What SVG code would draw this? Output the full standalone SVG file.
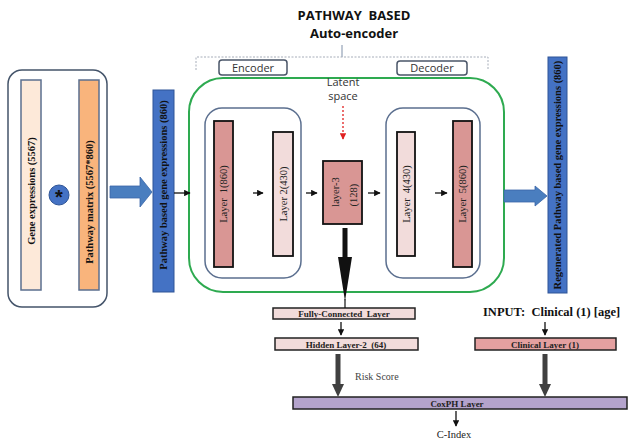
<svg xmlns="http://www.w3.org/2000/svg" width="629" height="439" viewBox="0 0 629 439">
<defs>
<style>
.sans{font-family:"Open Sans","Liberation Sans",sans-serif}
.serif{font-family:"Liberation Serif","Times New Roman",serif}
.title{font-family:"Open Sans","Liberation Sans",sans-serif;font-weight:bold;font-size:13px;fill:#111}
.lbl{font-family:"Open Sans","Liberation Sans",sans-serif;font-size:11px;fill:#333}
.bar{stroke:#111;stroke-width:1.8}
.rose{fill:#d99694}
.pink{fill:#f2dcdb}
.bluebar{fill:#4472c4;stroke:#2f5597;stroke-width:1}
.btxt{font-family:"Liberation Serif","Times New Roman",serif;font-weight:bold;font-size:10.5px;fill:#111}
.ltxt{font-family:"Liberation Serif","Times New Roman",serif;font-size:10.5px;fill:#222}
.hbox{stroke:#222;stroke-width:1.5}
.htxt{font-family:"Liberation Serif","Times New Roman",serif;font-weight:bold;font-size:9px;fill:#222}
.inner{fill:none;stroke:#5b6f8f;stroke-width:1.5}
.small{stroke:#111;stroke-width:1.3;fill:none;marker-end:url(#ah)}
.bigblue{fill:#4a7ebf;stroke:#3a66a8;stroke-width:0.8}
.gray{fill:#404040}
</style>
<marker id="ah" viewBox="0 0 10 10" refX="9" refY="5" markerWidth="5" markerHeight="5" orient="auto" markerUnits="strokeWidth">
<path d="M0,0 L10,5 L0,10 z" fill="#111"/>
</marker>
<marker id="ahr" viewBox="0 0 10 10" refX="9" refY="5" markerWidth="5" markerHeight="5" orient="auto" markerUnits="strokeWidth">
<path d="M0,0 L10,5 L0,10 z" fill="#e02020"/>
</marker>
</defs>

<g id="title">
<text class="title" x="354" y="20" text-anchor="middle" xml:space="preserve">PATHWAY  BASED</text>
<text class="title" x="354" y="38" text-anchor="middle">Auto-encoder</text>
<line x1="342" y1="45" x2="342" y2="57" stroke="#7f8fa8" stroke-width="1"/>
<path d="M196,70 V57 H488 V70" fill="none" stroke="#a6adb9" stroke-width="1" stroke-dasharray="2,1.5"/>
</g>

<g id="encoder-label">
<rect x="219" y="60" width="68" height="15" rx="3" fill="#fff" stroke="#4a5568" stroke-width="1.5"/>
<text class="lbl" x="253" y="71.5" text-anchor="middle">Encoder</text>
</g>
<g id="decoder-label">
<rect x="397" y="61" width="70" height="14" rx="3" fill="#fff" stroke="#4a5568" stroke-width="1.5"/>
<text class="lbl" x="432" y="72" text-anchor="middle">Decoder</text>
</g>

<g id="input-box">
<rect x="8" y="70" width="99" height="237" rx="14" fill="#fff" stroke="#44546a" stroke-width="1.5"/>
<rect x="21" y="80" width="20" height="210" fill="#fde9d9" stroke="#5b6f8f" stroke-width="1.5"/>
<text class="btxt" transform="translate(31,191) rotate(-90)" text-anchor="middle" dy="0.35em" font-size="11">Gene expressions (5567)</text>
<rect x="79" y="80" width="20" height="210" fill="#f9b47c" stroke="#5b6f8f" stroke-width="1.5"/>
<text class="btxt" transform="translate(89,202) rotate(-90)" text-anchor="middle" dy="0.35em" font-size="11">Pathway matrix (5567*860)</text>
<circle cx="59" cy="195" r="10" fill="#4472c4" stroke="#2f5597" stroke-width="1"/>
<text x="59" y="204" text-anchor="middle" font-family="Liberation Sans, sans-serif" font-weight="bold" font-size="20" fill="#111">*</text>
</g>

<g id="pathway-bar">
<rect class="bluebar" x="153" y="90" width="21" height="202"/>
<text class="btxt" transform="translate(163.5,185) rotate(-90)" text-anchor="middle" dy="0.35em">Pathway based gene expressions (860)</text>
</g>

<g id="autoencoder">
<rect x="189" y="78" width="315" height="214" rx="34" fill="none" stroke="#2eaa50" stroke-width="2"/>
<text class="lbl" x="343" y="86" text-anchor="middle" font-size="10">Latent</text>
<text class="lbl" x="343" y="100" text-anchor="middle" font-size="10">space</text>
</g>

<g id="encoder">
<rect class="inner" x="205" y="108" width="96" height="170" rx="17"/>
</g>
<g id="layer1">
<rect class="bar rose" x="214" y="121" width="19" height="146"/>
<text class="ltxt" transform="translate(223.5,194) rotate(-90)" text-anchor="middle" dy="0.35em" xml:space="preserve">Layer  1(860)</text>
</g>
<g id="layer2">
<rect class="bar pink" x="273" y="132" width="20" height="124"/>
<text class="ltxt" transform="translate(283,194) rotate(-90)" text-anchor="middle" dy="0.35em">Layer 2(430)</text>
</g>
<g id="layer3">
<rect class="bar rose" x="323" y="161" width="39" height="63"/>
<text class="ltxt" transform="translate(335,192) rotate(-90)" text-anchor="middle" dy="0.35em">layer-3</text>
<text class="ltxt" transform="translate(353,195) rotate(-90)" text-anchor="middle" dy="0.35em">(128)</text>
</g>
<g id="decoder">
<rect class="inner" x="386" y="108" width="94" height="170" rx="17"/>
</g>
<g id="layer4">
<rect class="bar pink" x="397" y="132" width="18" height="124"/>
<text class="ltxt" transform="translate(406,194) rotate(-90)" text-anchor="middle" dy="0.35em" xml:space="preserve">Layer  4(430)</text>
</g>
<g id="layer5">
<rect class="bar rose" x="453" y="121" width="19" height="146"/>
<text class="ltxt" transform="translate(462.5,194) rotate(-90)" text-anchor="middle" dy="0.35em" xml:space="preserve">Layer  5(860)</text>
</g>

<g id="regen-bar">
<rect class="bluebar" x="548" y="57" width="19" height="236"/>
<text class="btxt" transform="translate(557.5,175) rotate(-90)" text-anchor="middle" dy="0.35em">Regenerated Pathway based gene expressions (860)</text>
</g>

<g id="fc-layer">
<rect class="hbox pink" x="273" y="308" width="142" height="11"/>
<text class="htxt" x="344" y="317" text-anchor="middle" font-size="9.5" xml:space="preserve">Fully-Connected  Layer</text>
</g>
<g id="hidden-layer">
<rect class="hbox pink" x="275" y="338" width="143" height="12"/>
<text class="htxt" x="346" y="347.5" text-anchor="middle" font-size="9.5" xml:space="preserve">Hidden Layer-2  (64)</text>
</g>
<g id="clinical-input">
<text class="serif" x="483" y="316" font-weight="bold" font-size="12.5" fill="#111" xml:space="preserve">INPUT:  Clinical (1) [age]</text>
</g>
<g id="clinical-layer">
<rect class="hbox" x="475" y="338" width="141" height="12" fill="#e4a0a0"/>
<text class="htxt" x="545" y="347.5" text-anchor="middle" font-size="9.5">Clinical Layer (1)</text>
</g>
<g id="coxph">
<rect class="hbox" x="293" y="397" width="334" height="12" fill="#b4a3cc"/>
<text class="htxt" x="457" y="406.5" text-anchor="middle" font-size="9.5">CoxPH Layer</text>
</g>
<g id="cindex">
<text class="serif" x="454" y="438" text-anchor="middle" font-size="10.5" fill="#222">C-Index</text>
</g>
<g id="risk-label">
<text class="serif" x="355" y="380" font-size="10" fill="#444">Risk Score</text>
</g>

<g id="connectors">
<path class="bigblue" d="M110,186 H140 V177 L152,192 L140,207 V198 H110 Z"/>
<path class="bigblue" d="M504,190 H535 V186 L547,196 L535,206 V202 H504 Z"/>
<line class="small" x1="174" y1="193" x2="190" y2="193"/>
<line class="small" x1="253" y1="193" x2="263" y2="193"/>
<line class="small" x1="306" y1="193" x2="317" y2="193"/>
<line class="small" x1="368" y1="193" x2="380" y2="193"/>
<line class="small" x1="435" y1="193" x2="447" y2="193"/>
<line x1="343" y1="106" x2="343" y2="139" stroke="#e02020" stroke-width="1.3" stroke-dasharray="2,2" marker-end="url(#ahr)"/>
<rect x="342.5" y="228" width="5" height="30" fill="#111"/>
<path d="M338,257 H352 L345,301 Z" fill="#111"/>
<line x1="345" y1="299" x2="345" y2="308" stroke="#111" stroke-width="1.2"/>
<line class="small" x1="341" y1="322" x2="341" y2="335"/>
<line class="small" x1="545" y1="322" x2="545" y2="335"/>
<rect class="gray" x="335.5" y="354" width="5" height="32"/>
<path class="gray" d="M332,384 H344 L338,397 Z"/>
<rect class="gray" x="542.5" y="354" width="5" height="32"/>
<path class="gray" d="M539,384 H551 L545,397 Z"/>
<line class="small" x1="456" y1="411" x2="456" y2="426"/>
</g>
</svg>
